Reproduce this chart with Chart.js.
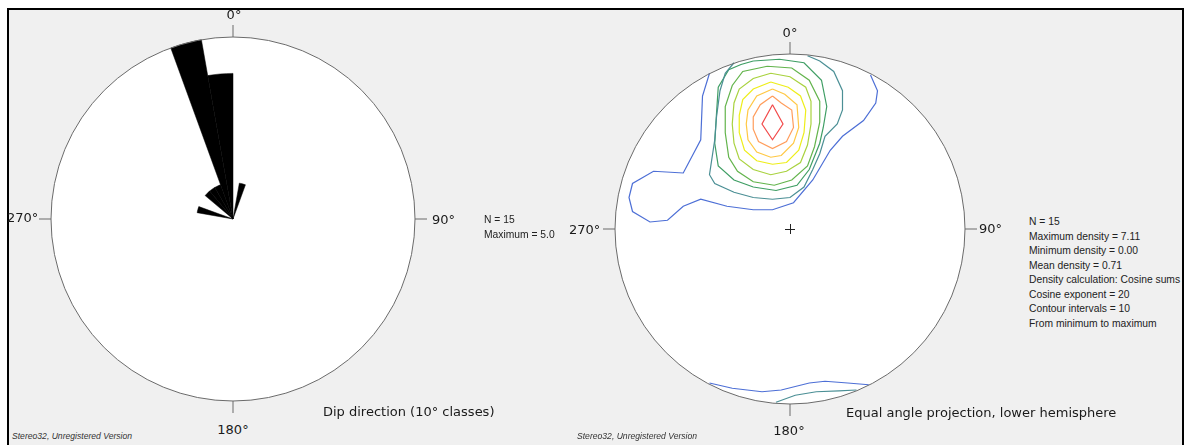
<!DOCTYPE html>
<html>
<head>
<meta charset="utf-8">
<title>Stereo32 – dip direction rose and density contours</title>
<script src="https://cdn.jsdelivr.net/npm/chart.js@4.4.1/dist/chart.umd.min.js"></script>
<style>
  body { margin: 0; background: #fff; width: 1187px; height: 445px; overflow: hidden; position: relative;
         font-family: "DejaVu Sans", sans-serif; color: #1a1a1a; }
  #frame { position: absolute; left: 7px; top: 8px; width: 1173px; height: 460px;
           border: 2px solid #000; background: #f0f0f0; }
  canvas { position: absolute; }
  .lbl { position: absolute; font-size: 13px; line-height: 16px; white-space: nowrap; }
  .info { position: absolute; font-family: "Liberation Sans", Arial, sans-serif; font-size: 10.3px;
          line-height: 14.5px; white-space: nowrap; color: #222; }
  .foot { position: absolute; font-family: "Liberation Sans", Arial, sans-serif; font-style: italic;
          font-size: 8.6px; line-height: 10px; white-space: nowrap; color: #333; }
</style>
</head>
<body>
<div id="frame"></div>

<canvas id="roseChart" width="404" height="404" style="left:31px; top:17px;"></canvas>
<canvas id="netChart" width="390" height="390" style="left:595px; top:34px;"></canvas>

<!-- rose diagram labels -->
<div class="lbl" style="left:214px; top:7px; width:40px; text-align:center;">0°</div>
<div class="lbl" style="left:432px; top:212px;">90°</div>
<div class="lbl" style="left:213px; top:422px; width:40px; text-align:center;">180°</div>
<div class="lbl" style="left:7px; top:210px;">270°</div>
<div class="info" style="left:484px; top:213px;">N = 15<br>Maximum = 5.0</div>
<div class="lbl" style="left:323px; top:404px;">Dip direction (10° classes)</div>
<div class="foot" style="left:12px; top:431px;">Stereo32, Unregistered Version</div>

<!-- stereonet labels -->
<div class="lbl" style="left:770px; top:25px; width:40px; text-align:center;">0°</div>
<div class="lbl" style="left:979px; top:221px;">90°</div>
<div class="lbl" style="left:769px; top:423px; width:40px; text-align:center;">180°</div>
<div class="lbl" style="left:569px; top:222px;">270°</div>
<div class="info" style="left:1029px; top:215px;">N = 15<br>Maximum density = 7.11<br>Minimum density = 0.00<br>Mean density = 0.71<br>Density calculation: Cosine sums<br>Cosine exponent = 20<br>Contour intervals = 10<br>From minimum to maximum</div>
<div class="lbl" style="left:846px; top:405px;">Equal angle projection, lower hemisphere</div>
<div class="foot" style="left:577px; top:431px;">Stereo32, Unregistered Version</div>

<script>
// --- Rose diagram data: dip direction, 10° classes ---
const dipClasses = ['0','10','20','30','40','50','60','70','80','90','100','110',
                    '120','130','140','150','160','170','180','190','200','210','220','230',
                    '240','250','260','270','280','290','300','310','320','330','340','350'];
const dipCounts = [0, 1, 0, 0, 0, 0, 0, 0, 0, 0, 0, 0,
                   0, 0, 0, 0, 0, 0, 0, 0, 0, 0, 0, 0,
                   0, 0, 0, 0, 1, 0, 0, 1, 1, 1, 5, 4];
const roseMax = 5;

// --- Density contours, equal angle net (x east, y north, net radius = 1) ---
const level1North = [[-0.46,0.89],[-0.50,0.76],[-0.51,0.51],[-0.61,0.32],[-0.78,0.33],[-0.90,0.26],
                     [-0.92,0.18],[-0.90,0.10],[-0.80,0.04],[-0.70,0.05],[-0.61,0.13],[-0.51,0.17],
                     [-0.36,0.13],[-0.21,0.11],[-0.10,0.11],[0.02,0.15],[0.13,0.28],[0.23,0.45],
                     [0.30,0.53],[0.42,0.62],[0.49,0.72],[0.50,0.79],[0.46,0.88]];
const level1South = [[-0.46,-0.88],[-0.33,-0.91],[-0.16,-0.93],[-0.05,-0.92],[0.11,-0.88],
                     [0.20,-0.87],[0.33,-0.88],[0.45,-0.89]];
const level2North = [[-0.32,0.95],[-0.37,0.89],[-0.40,0.79],[-0.42,0.64],[-0.43,0.51],[-0.46,0.31],
                     [-0.43,0.26],[-0.32,0.21],[-0.21,0.18],[-0.10,0.17],[0.00,0.18],[0.08,0.24],
                     [0.13,0.34],[0.17,0.43],[0.20,0.53],[0.27,0.60],[0.30,0.68],[0.30,0.79],
                     [0.25,0.90],[0.17,0.96],[0.10,0.99]];
const level2South = [[-0.08,-0.99],[0.03,-0.95],[0.15,-0.93],[0.28,-0.925],[0.38,-0.92]];
const level3 = [[-0.21,0.96],[-0.06,0.97],[0.08,0.95],[0.18,0.85],[0.21,0.70],[0.19,0.58],[0.17,0.49],
                [0.11,0.34],[0.04,0.25],[-0.08,0.22],[-0.21,0.24],[-0.32,0.28],[-0.41,0.36],
                [-0.43,0.49],[-0.42,0.66],[-0.41,0.81],[-0.35,0.91],[-0.28,0.94]];
const level4 = [[-0.13,0.93],[0.01,0.92],[0.11,0.85],[0.17,0.73],[0.17,0.61],[0.14,0.47],[0.10,0.36],
                [0.01,0.28],[-0.09,0.25],[-0.21,0.27],[-0.30,0.33],[-0.35,0.41],[-0.37,0.55],
                [-0.37,0.70],[-0.33,0.82],[-0.27,0.90]];
const level5 = [[-0.11,0.89],[0.00,0.87],[0.09,0.81],[0.12,0.73],[0.12,0.60],[0.10,0.48],[0.06,0.38],
                [-0.02,0.33],[-0.11,0.31],[-0.21,0.34],[-0.29,0.40],[-0.32,0.49],[-0.33,0.60],
                [-0.32,0.72],[-0.29,0.80],[-0.21,0.86]];
const level6 = [[-0.11,0.84],[-0.01,0.81],[0.06,0.76],[0.09,0.68],[0.08,0.55],[0.05,0.45],[-0.02,0.38],
                [-0.10,0.37],[-0.19,0.39],[-0.26,0.45],[-0.29,0.55],[-0.29,0.65],[-0.27,0.74],
                [-0.21,0.80]];
const level7 = [[-0.10,0.80],[-0.03,0.77],[0.04,0.71],[0.05,0.58],[0.02,0.49],[-0.05,0.42],[-0.11,0.41],
                [-0.19,0.44],[-0.24,0.51],[-0.25,0.60],[-0.24,0.68],[-0.19,0.76]];
const level8 = [[-0.10,0.76],[-0.05,0.72],[0.01,0.68],[0.02,0.58],[-0.02,0.50],[-0.10,0.46],
                [-0.18,0.50],[-0.21,0.57],[-0.21,0.64],[-0.17,0.71]];
const level9 = [[-0.10,0.71],[-0.04,0.60],[-0.10,0.51],[-0.16,0.60]];

const levelColors = ['#4d6fd6', '#4b8f95', '#3f9e64', '#63b44c', '#a9d23f',
                     '#eeee1a', '#ffc845', '#ff9d5c', '#f24a4a'];

// --- Net frame: white disc, outline, N/E/S/W ticks, optional centre cross ---
function netGeometry(chart) {
    if (chart.scales.r) {
        const r = chart.scales.r;
        return { cx: r.xCenter, cy: r.yCenter, rad: r.drawingArea };
    }
    const x = chart.scales.x, y = chart.scales.y;
    return { cx: x.getPixelForValue(0), cy: y.getPixelForValue(0),
             rad: x.getPixelForValue(1) - x.getPixelForValue(0) };
}

const netFrame = {
    id: 'netFrame',
    beforeDatasetsDraw(chart) {
        const { cx, cy, rad } = netGeometry(chart);
        const ctx = chart.ctx;
        ctx.save();
        ctx.beginPath();
        ctx.arc(cx, cy, rad, 0, Math.PI * 2);
        ctx.fillStyle = '#ffffff';
        ctx.fill();
        ctx.restore();
    },
    afterDatasetsDraw(chart, args, opts) {
        const { cx, cy, rad } = netGeometry(chart);
        const ctx = chart.ctx;
        const tick = opts.tick || 12;
        ctx.save();
        ctx.strokeStyle = '#6a6a6a';
        ctx.lineWidth = 1;
        ctx.beginPath();
        ctx.arc(cx, cy, rad, 0, Math.PI * 2);
        ctx.stroke();
        ctx.beginPath();
        ctx.moveTo(cx, cy - rad); ctx.lineTo(cx, cy - rad - tick);
        ctx.moveTo(cx + rad, cy); ctx.lineTo(cx + rad + tick, cy);
        ctx.moveTo(cx, cy + rad); ctx.lineTo(cx, cy + rad + tick);
        ctx.moveTo(cx - rad, cy); ctx.lineTo(cx - rad - tick, cy);
        ctx.stroke();
        if (opts.cross) {
            ctx.strokeStyle = '#222';
            ctx.beginPath();
            ctx.moveTo(cx - 5, cy + 0.5); ctx.lineTo(cx + 5, cy + 0.5);
            ctx.moveTo(cx + 0.5, cy - 5); ctx.lineTo(cx + 0.5, cy + 5);
            ctx.stroke();
        }
        ctx.restore();
    }
};

// --- Rose diagram ---
new Chart(document.getElementById('roseChart'), {
    type: 'polarArea',
    data: {
        labels: dipClasses,
        datasets: [{
            data: dipCounts,
            backgroundColor: '#000000',
            borderColor: '#000000',
            borderWidth: 0.5
        }]
    },
    options: {
        responsive: false,
        animation: false,
        layout: { padding: 20 },
        plugins: {
            legend: { display: false },
            tooltip: { enabled: false },
            netFrame: { tick: 12 }
        },
        scales: {
            r: {
                min: 0,
                max: roseMax,
                ticks: { display: false },
                grid: { display: false },
                angleLines: { display: false },
                pointLabels: { display: false }
            }
        }
    },
    plugins: [netFrame]
});

// --- Contour net ---
function toPoints(list, closed) {
    const pts = list.map(p => ({ x: p[0], y: p[1] }));
    if (closed) pts.push({ x: list[0][0], y: list[0][1] });
    return pts;
}

const contourSets = [
    { pts: level1North, lvl: 0, closed: false },
    { pts: level1South, lvl: 0, closed: false },
    { pts: level2North, lvl: 1, closed: false },
    { pts: level2South, lvl: 1, closed: false },
    { pts: level3, lvl: 2, closed: true },
    { pts: level4, lvl: 3, closed: true },
    { pts: level5, lvl: 4, closed: true },
    { pts: level6, lvl: 5, closed: true },
    { pts: level7, lvl: 6, closed: true },
    { pts: level8, lvl: 7, closed: true },
    { pts: level9, lvl: 8, closed: true }
];

new Chart(document.getElementById('netChart'), {
    type: 'scatter',
    data: {
        datasets: contourSets.map(c => ({
            data: toPoints(c.pts, c.closed),
            showLine: true,
            fill: false,
            tension: 0,
            borderColor: levelColors[c.lvl],
            borderWidth: 1.2,
            pointRadius: 0
        }))
    },
    options: {
        responsive: false,
        animation: false,
        layout: { padding: 20 },
        plugins: {
            legend: { display: false },
            tooltip: { enabled: false },
            netFrame: { tick: 12, cross: true }
        },
        scales: {
            x: { type: 'linear', min: -1, max: 1, display: false },
            y: { type: 'linear', min: -1, max: 1, display: false }
        }
    },
    plugins: [netFrame]
});
</script>
</body>
</html>
